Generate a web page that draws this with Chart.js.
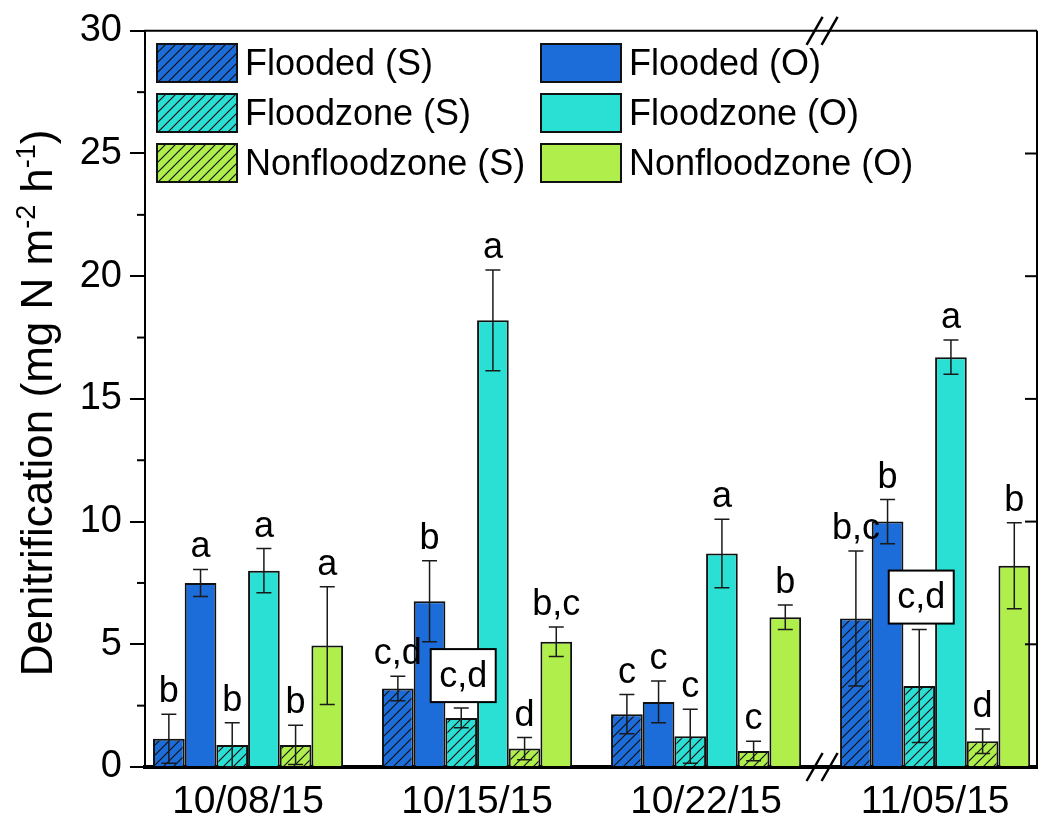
<!DOCTYPE html>
<html>
<head>
<meta charset="utf-8">
<script src="https://cdn.jsdelivr.net/npm/chart.js@4.4.0/dist/chart.umd.min.js"></script>
<style>
html,body{margin:0;padding:0;background:#fff}
</style>
</head>
<body>
<canvas id="denitChart" width="1042" height="818"></canvas>
<script>
// sampling dates
const dates = ['10/08/15', '10/15/15', '10/22/15', '11/05/15']

// means, one array per treatment
const floodedS = [1.15, 3.2, 2.15, 6.05]
const floodedO = [7.5, 6.75, 2.65, 10.0]
const floodzoneS = [0.9, 2.0, 1.25, 3.3]
const floodzoneO = [8.0, 18.2, 8.7, 16.7]
const nonfloodS = [0.9, 0.75, 0.65, 1.05]
const nonfloodO = [4.95, 5.1, 6.1, 8.2]

// error bar half-widths
const floodedSErr = [1.0, 0.5, 0.8, 2.75]
const floodedOErr = [0.55, 1.65, 0.85, 0.9]
const floodzoneSErr = [0.9, 0.4, 1.1, 2.3]
const floodzoneOErr = [0.9, 2.05, 1.4, 0.7]
const nonfloodSErr = [0.8, 0.45, 0.4, 0.5]
const nonfloodOErr = [2.4, 0.6, 0.5, 1.75]

// significance letters
const floodedSLetters = ['b', 'c,d', 'c', 'b,c']
const floodedOLetters = ['a', 'b', 'c', 'b']
const floodzoneSLetters = ['b', 'c,d', 'c', 'c,d']
const floodzoneOLetters = ['a', 'a', 'a', 'a']
const nonfloodSLetters = ['b', 'd', 'c', 'd']
const nonfloodOLetters = ['a', 'b,c', 'b', 'b']

const yMin = 0
const yMax = 30
const yStep = 5

const FONT = '"Liberation Sans", Arial, sans-serif'
const BLUE = '#1c6dd9'
const CYAN = '#2ae0d5'
const GREEN = '#b0ef4b'

// diagonal hatch for the (S) bars
const makeHatch = (color)=>{
    const s = 10
    const c = document.createElement('canvas')
    c.width = s
    c.height = s
    const g = c.getContext('2d')
    g.fillStyle = color
    g.fillRect(0, 0, s, s)
    g.strokeStyle = '#111'
    g.lineWidth = 1.2
    g.beginPath()
    g.moveTo(-1, s + 1)
    g.lineTo(s + 1, -1)
    g.moveTo(-2, 2)
    g.lineTo(2, -2)
    g.moveTo(s - 2, s + 2)
    g.lineTo(s + 2, s - 2)
    g.stroke()
    return g.createPattern(c, 'repeat')
}

const toPoints = (arr)=> arr.map((v, i)=> ({x: i, y: v}))

const series = [
    {label: 'Flooded (S)', data: floodedS, err: floodedSErr, letters: floodedSLetters, fill: makeHatch(BLUE)},
    {label: 'Flooded (O)', data: floodedO, err: floodedOErr, letters: floodedOLetters, fill: BLUE},
    {label: 'Floodzone (S)', data: floodzoneS, err: floodzoneSErr, letters: floodzoneSLetters, fill: makeHatch(CYAN)},
    {label: 'Floodzone (O)', data: floodzoneO, err: floodzoneOErr, letters: floodzoneOLetters, fill: CYAN},
    {label: 'Nonfloodzone (S)', data: nonfloodS, err: nonfloodSErr, letters: nonfloodSLetters, fill: makeHatch(GREEN)},
    {label: 'Nonfloodzone (O)', data: nonfloodO, err: nonfloodOErr, letters: nonfloodOLetters, fill: GREEN}
]

// letters drawn inside a white box (dataset index, date index)
const boxedLetters = [[2, 1], [2, 3]]

const extrasPlugin = {
    id: 'extras',
    afterDatasetsDraw(chart){
        const ctx = chart.ctx
        const y = chart.scales.y
        ctx.save()
        // error bars
        ctx.strokeStyle = '#1a1a1a'
        ctx.lineWidth = 1.5
        series.forEach((s, di)=>{
            const meta = chart.getDatasetMeta(di)
            meta.data.forEach((bar, i)=>{
                const top = y.getPixelForValue(s.data[i] + s.err[i])
                const bot = y.getPixelForValue(Math.max(0, s.data[i] - s.err[i]))
                ctx.beginPath()
                ctx.moveTo(bar.x, top)
                ctx.lineTo(bar.x, bot)
                ctx.moveTo(bar.x - 7.5, top)
                ctx.lineTo(bar.x + 7.5, top)
                ctx.moveTo(bar.x - 7.5, bot)
                ctx.lineTo(bar.x + 7.5, bot)
                ctx.stroke()
            })
        })
        // letters
        ctx.fillStyle = '#000'
        ctx.font = '36px ' + FONT
        ctx.textAlign = 'center'
        series.forEach((s, di)=>{
            const meta = chart.getDatasetMeta(di)
            meta.data.forEach((bar, i)=>{
                const top = y.getPixelForValue(s.data[i] + s.err[i])
                const boxed = boxedLetters.some(b=> b[0] === di && b[1] === i)
                if(boxed){
                    const w = 65, h = 53
                    const bx = bar.x - w / 2 + 2
                    const by = top - 6 - h
                    ctx.fillStyle = '#fff'
                    ctx.fillRect(bx, by, w, h)
                    ctx.strokeStyle = '#000'
                    ctx.lineWidth = 2
                    ctx.strokeRect(bx, by, w, h)
                    ctx.fillStyle = '#000'
                    ctx.textBaseline = 'middle'
                    ctx.fillText(s.letters[i], bx + w / 2, by + h / 2 + 1)
                }else{
                    ctx.textBaseline = 'alphabetic'
                    ctx.fillText(s.letters[i], bar.x, top - 12)
                }
            })
        })
        ctx.restore()
    },
    afterDraw(chart){
        const ctx = chart.ctx
        const a = chart.chartArea
        const y = chart.scales.y
        const x = chart.scales.x
        ctx.save()
        ctx.strokeStyle = '#000'
        // top and right frame
        ctx.lineWidth = 2
        ctx.beginPath()
        ctx.moveTo(a.left - 1, a.top)
        ctx.lineTo(a.right, a.top)
        ctx.moveTo(a.right, a.top)
        ctx.lineTo(a.right, a.bottom)
        ctx.stroke()
        // right axis inward ticks
        for(let v = yMin + yStep; v < yMax; v += yStep){
            const py = y.getPixelForValue(v)
            ctx.beginPath()
            ctx.moveTo(a.right, py)
            ctx.lineTo(a.right - 12, py)
            ctx.stroke()
        }
        // left axis minor ticks
        for(let v = yMin + yStep / 2; v < yMax; v += yStep){
            const py = y.getPixelForValue(v)
            ctx.beginPath()
            ctx.moveTo(a.left, py)
            ctx.lineTo(a.left - 8, py)
            ctx.stroke()
        }
        // axis break marks between 10/22 and 11/05
        const bx = x.getPixelForValue(2.5)
        ctx.lineWidth = 2.5
        ;[a.top, a.bottom].forEach(py=>{
            ;[-6, 9].forEach(dx=>{
                ctx.beginPath()
                ctx.moveTo(bx + dx - 8, py + 14)
                ctx.lineTo(bx + dx + 8, py - 14)
                ctx.stroke()
            })
        })
        // legend
        ctx.font = '36px ' + FONT
        ctx.textAlign = 'left'
        ctx.textBaseline = 'middle'
        series.forEach((s, di)=>{
            const col = di % 2
            const row = Math.floor(di / 2)
            const lx = col === 0 ? 157 : 541
            const ly = 44 + row * 50
            ctx.fillStyle = s.fill
            ctx.fillRect(lx, ly, 80, 38)
            ctx.strokeStyle = '#111'
            ctx.lineWidth = 2
            ctx.strokeRect(lx, ly, 80, 38)
            ctx.fillStyle = '#000'
            ctx.fillText(s.label, lx + 88, ly + 21)
        })
        // y title with superscripts
        const big = '44px ' + FONT
        const small = '27px ' + FONT
        const parts = [
            {t: 'Denitrification (mg N m', f: big, up: 0},
            {t: '-2', f: small, up: 17},
            {t: ' h', f: big, up: 0},
            {t: '-1', f: small, up: 17},
            {t: ')', f: big, up: 0}
        ]
        let total = 0
        parts.forEach(p=>{ ctx.font = p.f; p.w = ctx.measureText(p.t).width; total += p.w })
        ctx.translate(52, (a.top + a.bottom) / 2 + 4)
        ctx.rotate(-Math.PI / 2)
        ctx.textBaseline = 'alphabetic'
        ctx.fillStyle = '#000'
        let cx = -total / 2
        parts.forEach(p=>{
            ctx.font = p.f
            ctx.fillText(p.t, cx, -p.up)
            cx += p.w
        })
        ctx.restore()
    }
}

const canvas = document.querySelector('#denitChart')
const myChart = new Chart(canvas, {
    type: 'bar',
    data: {
        datasets: series.map(s=> ({
            label: s.label,
            data: toPoints(s.data),
            backgroundColor: s.fill,
            borderColor: '#111',
            borderWidth: 2,
            borderSkipped: 'start',
            categoryPercentage: 0.83,
            barPercentage: 1.0
        }))
    },
    options: {
        responsive: false,
        animation: false,
        devicePixelRatio: 1,
        layout: {padding: {top: 29, right: 5, left: 0, bottom: 0}},
        plugins: {
            legend: {display: false},
            tooltip: {enabled: false}
        },
        scales: {
            x: {
                type: 'linear',
                offset: false,
                bounds: 'ticks',
                min: -0.45,
                max: 3.445,
                afterFit: (scale)=>{ scale.height = 51 },
                grid: {display: false, offset: false},
                border: {display: true, color: '#000', width: 4},
                ticks: {
                    stepSize: 1,
                    includeBounds: false,
                    autoSkip: false,
                    maxRotation: 0,
                    color: '#000',
                    padding: 4,
                    font: {family: FONT, size: 39},
                    callback: (v)=> Number.isInteger(v) ? dates[v] : ''
                }
            },
            y: {
                min: yMin,
                max: yMax,
                afterFit: (scale)=>{ scale.width = 145 },
                grid: {drawOnChartArea: false, drawTicks: true, tickLength: 15, color: '#000', lineWidth: 2},
                border: {display: true, color: '#000', width: 2},
                ticks: {
                    stepSize: yStep,
                    color: '#000',
                    padding: 8,
                    font: {family: FONT, size: 38}
                }
            }
        }
    },
    plugins: [extrasPlugin]
})
</script>
</body>
</html>
